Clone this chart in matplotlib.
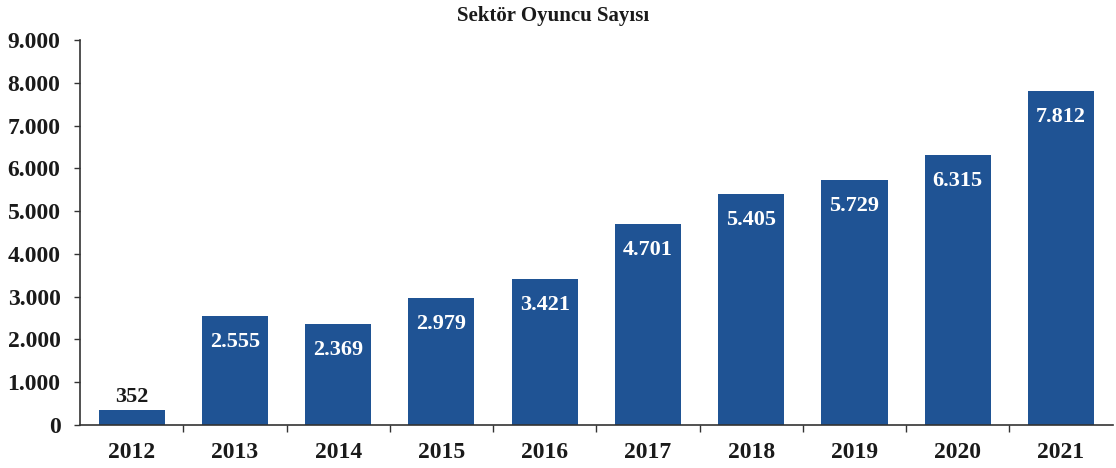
import matplotlib.pyplot as plt
import numpy as np

# Sektör oyuncu sayısı, yıllara göre
yillar = ["2012", "2013", "2014", "2015", "2016", "2017", "2018", "2019", "2020", "2021"]
oyuncu = [352, 2555, 2369, 2979, 3421, 4701, 5405, 5729, 6315, 7812]

plt.rcParams['font.family'] = ['Liberation Serif', 'DejaVu Serif']
plt.rcParams['font.weight'] = 'bold'

fig = plt.figure(figsize=(11.16, 4.68), dpi=100)
ax = fig.add_axes([0.0717, 0.0919, 0.9253, 0.8226])

x = np.arange(len(yillar))
bars = ax.bar(x, oyuncu, width=0.64, color='#1F5394')

def fmt(v):
    return f"{v:,}".replace(",", ".")

for xi, v in zip(x, oyuncu):
    if v < 1000:
        ax.annotate(fmt(v), (xi, v), xytext=(0, 2), textcoords='offset points',
                    ha='center', va='bottom', fontsize=16, fontweight='bold', color='#1a1a1a')
    else:
        ax.annotate(fmt(v), (xi, v), xytext=(0, -19), textcoords='offset points',
                    ha='center', va='center', fontsize=16, fontweight='bold', color='white')

ax.set_xlim(-0.5, len(yillar) - 0.5)
ax.set_ylim(0, 9000)
ax.set_yticks(np.arange(0, 9001, 1000))
ax.set_yticklabels([fmt(v) for v in range(0, 9001, 1000)])
ax.set_xticks(x)
ax.set_xticklabels(yillar)
ax.set_xticks(np.arange(0.5, len(yillar) - 0.5, 1), minor=True)

ax.tick_params(axis='y', labelsize=17, length=4, width=1, colors='#333333', labelcolor='#1a1a1a', pad=10)
ax.tick_params(axis='x', which='major', length=0, labelsize=17, labelcolor='#1a1a1a', pad=12)
ax.tick_params(axis='x', which='minor', length=5, width=1, colors='#333333')

for s in ['top', 'right']:
    ax.spines[s].set_visible(False)
for s in ['left', 'bottom']:
    ax.spines[s].set_color('#333333')
    ax.spines[s].set_linewidth(1.2)

fig.text(0.496, 0.966, "Sektör Oyuncu Sayısı", ha='center', va='center',
         fontsize=15, fontweight='bold', color='#1a1a1a')

fig.savefig("out.png", dpi=100)
